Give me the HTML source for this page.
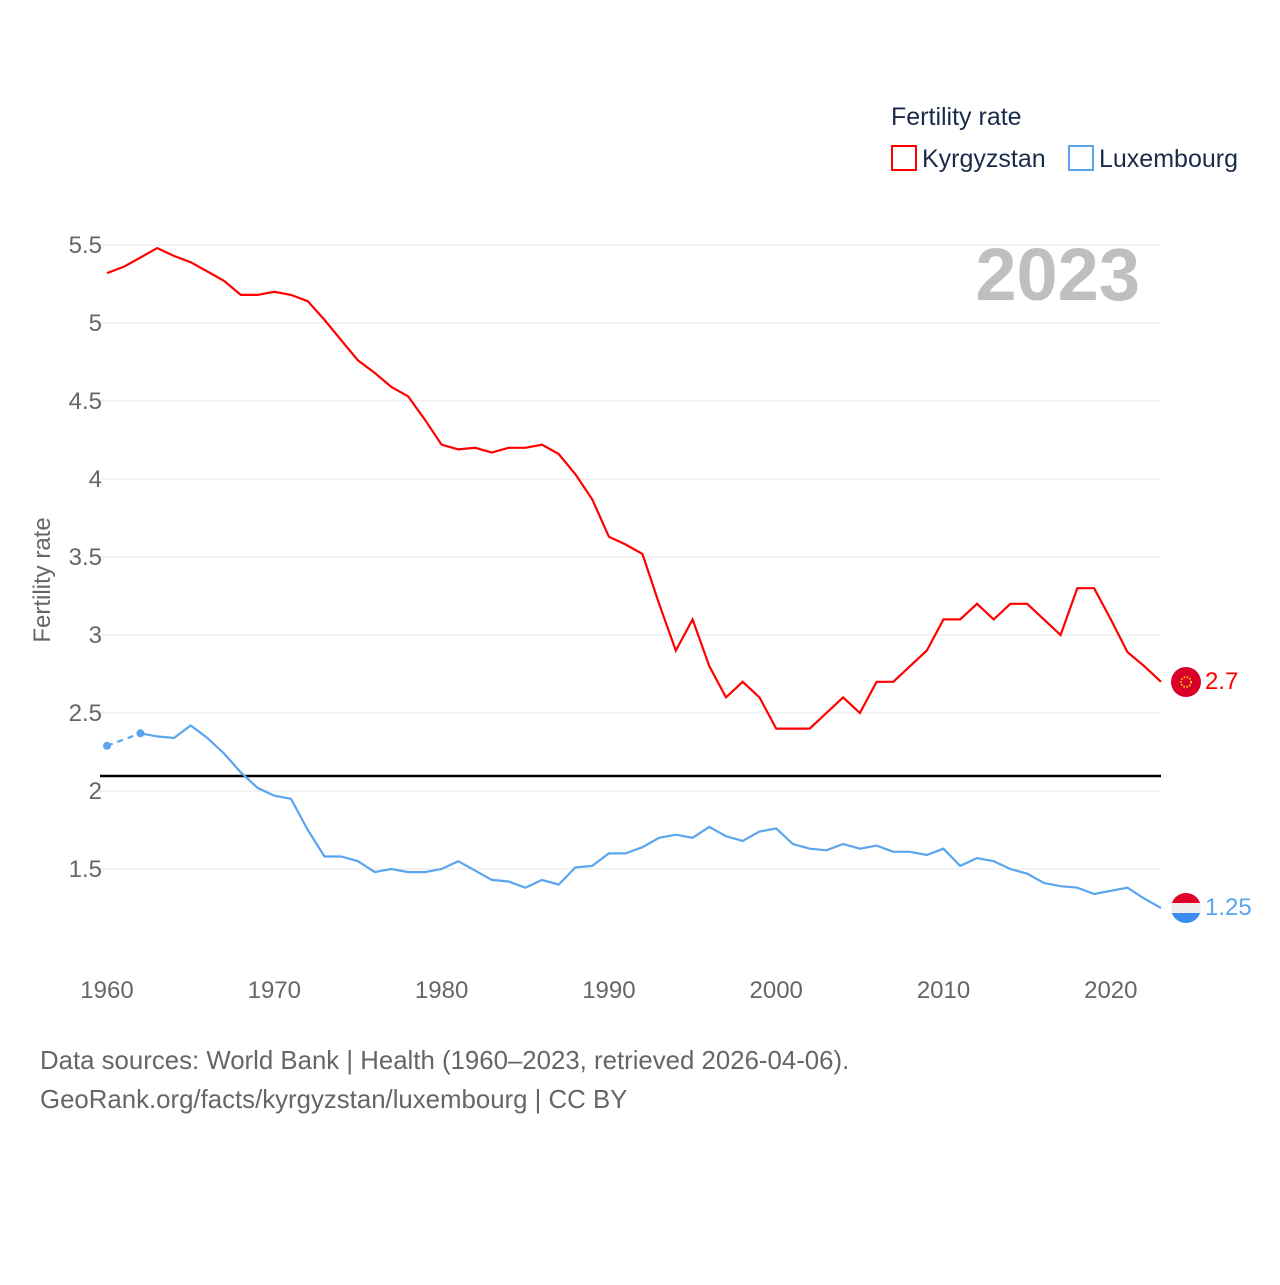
<!DOCTYPE html>
<html><head><meta charset="utf-8"><style>
body{margin:0;background:#fff;width:1280px;height:1280px;overflow:hidden;font-family:"Liberation Sans",sans-serif}
</style></head><body>
<svg width="1280" height="1280" xmlns="http://www.w3.org/2000/svg" id="chart">
<g id="grid"></g>
<g id="yticks"></g>
<g id="xticks"></g>
<text x="50" y="580" transform="rotate(-90 50 580)" text-anchor="middle" font-size="24" fill="#666">Fertility rate</text>
<text x="1140" y="300" text-anchor="end" font-size="74" font-weight="bold" fill="#bfbfbf">2023</text>
<g>
<text x="891" y="125" font-size="25" fill="#1a2b4a">Fertility rate</text>
<g><rect x="892" y="146" width="24" height="24" fill="none" stroke="#ff0000" stroke-width="2"/><text x="922" y="167" font-size="25" fill="#1a2b4a">Kyrgyzstan</text></g>
<g><rect x="1069" y="146" width="24" height="24" fill="none" stroke="#5aa5ee" stroke-width="2"/><text x="1099" y="167" font-size="25" fill="#1a2b4a">Luxembourg</text></g>
</g>
<line x1="100" x2="1161" y1="776" y2="776" stroke="#000" stroke-width="2.5"/>
<g id="series"></g>
<g>
<circle cx="1186" cy="682" r="15" fill="#d8002b"/><circle cx="1186" cy="682" r="5" fill="none" stroke="#f5c400" stroke-width="2" stroke-dasharray="1.5 1.5"/>
<text x="1205" y="689" font-size="24" fill="#ff0000">2.7</text></g>
<g>
<clipPath id="c"><circle cx="1186" cy="908" r="15"/></clipPath>
<g clip-path="url(#c)"><rect x="1171" y="893" width="30" height="10" fill="#e0002a"/><rect x="1171" y="903" width="30" height="10" fill="#eee"/><rect x="1171" y="913" width="30" height="10" fill="#3a8cf0"/></g>
<text x="1205" y="915" font-size="24" fill="#5aa5ee">1.25</text></g>
<text x="40" y="1069" font-size="25.8" fill="#666">Data sources: World Bank | Health (1960–2023, retrieved 2026-04-06).</text>
<text x="40" y="1108" font-size="25.8" fill="#666">GeoRank.org/facts/kyrgyzstan/luxembourg | CC BY</text>
</svg>
<script>
const years=[];for(let y=1960;y<=2023;y++)years.push(y);
const kgz=[5.32,5.36,5.42,5.48,5.43,5.39,5.33,5.27,5.18,5.18,5.20,5.18,5.14,5.02,4.89,4.76,4.68,4.59,4.53,4.38,4.22,4.19,4.20,4.17,4.20,4.20,4.22,4.16,4.03,3.87,3.63,3.58,3.52,3.20,2.90,3.10,2.80,2.60,2.70,2.60,2.40,2.40,2.40,2.50,2.60,2.50,2.70,2.70,2.80,2.90,3.10,3.10,3.20,3.10,3.20,3.20,3.10,3.00,3.30,3.30,3.10,2.89,2.80,2.70];
const lux=[2.29,null,2.37,2.35,2.34,2.42,2.34,2.24,2.12,2.02,1.97,1.95,1.75,1.58,1.58,1.55,1.48,1.50,1.48,1.48,1.50,1.55,1.49,1.43,1.42,1.38,1.43,1.40,1.51,1.52,1.60,1.60,1.64,1.70,1.72,1.70,1.77,1.71,1.68,1.74,1.76,1.66,1.63,1.62,1.66,1.63,1.65,1.61,1.61,1.59,1.63,1.52,1.57,1.55,1.50,1.47,1.41,1.39,1.38,1.34,1.36,1.38,1.31,1.25];
const yTicks=[1.5,2,2.5,3,3.5,4,4.5,5,5.5];
const xTicks=[1960,1970,1980,1990,2000,2010,2020];
const X=y=>107+(y-1960)*(1161-107)/63;
const Y=v=>245+(5.5-v)*156;
const NS="http://www.w3.org/2000/svg";
function mk(t,a,p){const e=document.createElementNS(NS,t);for(const k in a)e.setAttribute(k,a[k]);p.appendChild(e);return e;}
const grid=document.getElementById('grid'),yt=document.getElementById('yticks'),xt=document.getElementById('xticks'),ser=document.getElementById('series');
yTicks.forEach(v=>{
 const l=mk('line',{x1:100,x2:1161,y1:Y(v),y2:Y(v),stroke:'#e6e6e6','stroke-width':1},grid);
 
 
 const t=mk('text',{x:102,y:Y(v)+8,'text-anchor':'end','font-size':24,fill:'#666'},yt);t.textContent=v;
 
 
});
xTicks.forEach(v=>{
 const t=mk('text',{x:X(v),y:998,'text-anchor':'middle','font-size':24,fill:'#666'},xt);t.textContent=v;
 
 
});
function pathOf(vals,start){let d='';for(let i=start;i<vals.length;i++){if(vals[i]==null)continue;d+=(d?'L':'M')+X(years[i]).toFixed(1)+','+Y(vals[i]).toFixed(1);}return d;}
const kp=mk('path',{d:pathOf(kgz,0),fill:'none',stroke:'#ff0000','stroke-width':2.2},ser);


const lp=mk('path',{d:pathOf(lux,2),fill:'none',stroke:'#5aa5ee','stroke-width':2.2},ser);


const ld=mk('path',{d:'M'+X(years[0])+','+Y(lux[0])+'L'+X(years[2])+','+Y(lux[2]),fill:'none',stroke:'#5aa5ee','stroke-width':2.2,'stroke-dasharray':'6 5'},ser);


[0,2].forEach(i=>{const c=mk('circle',{cx:X(years[i]),cy:Y(lux[i]),r:4,fill:'#5aa5ee'},ser);
 
 });
</script>
</body></html>
